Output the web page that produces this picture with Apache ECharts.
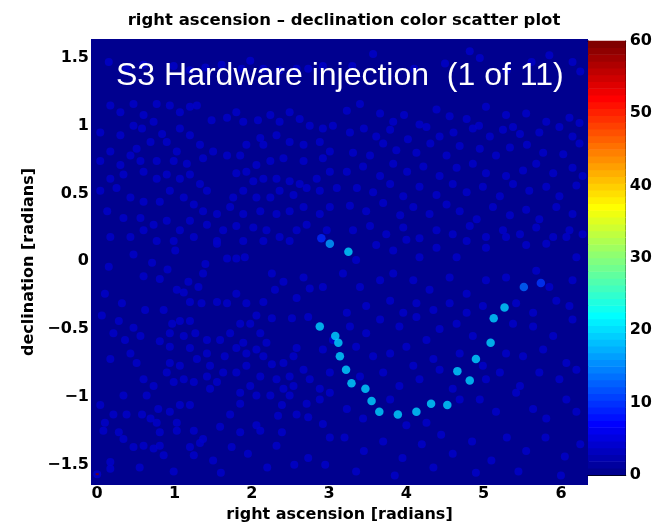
<!DOCTYPE html>
<html>
<head>
<meta charset="utf-8">
<script src="https://cdn.jsdelivr.net/npm/echarts@6/dist/echarts.min.js"></script>
<style>
  html, body { margin: 0; padding: 0; background: #fff; }
  #chart { width: 655px; height: 528px; }
</style>
</head>
<body>
<div id="chart"></div>
<script>
// Axis ticks
const raTicks = [0, 1, 2, 3, 4, 5, 6];
const decTicks = [-1.5, -1, -0.5, 0, 0.5, 1, 1.5];
const colorTicks = [0, 10, 20, 30, 40, 50, 60];

// Injection track: right ascension, declination, statistic value
const trackRA  = [2.90, 3.01, 3.25, 2.88, 3.08, 3.12, 3.14, 3.22, 3.29, 3.47, 3.55, 3.65,
                  3.89, 4.13, 4.32, 4.53, 4.66, 4.82, 4.90, 5.09, 5.13, 5.27, 5.52, 5.74];
const trackDec = [0.17, 0.13, 0.07, -0.48, -0.55, -0.60, -0.70, -0.80, -0.90, -0.94, -1.03, -1.11,
                  -1.13, -1.11, -1.05, -1.06, -0.81, -0.88, -0.72, -0.60, -0.42, -0.34, -0.19, -0.16];
const trackValue = [9, 16.5, 19.5, 19.5, 19.5, 19.5, 19.5, 19.5, 19.5, 19.5, 19.5, 19.5,
                    19.5, 19.5, 19.5, 19.5, 19.5, 19.5, 19.5, 19.5, 19.5, 19.5, 13, 10];

// Low-statistic sky positions (right ascension, declination)
const bgPoints = [
  // ra 0..3.1, southern sky
  [0.15,-0.04],[0.47,0.05],[0.71,-0.01],[0.91,-0.06],[0.60,-0.11],[0.81,-0.13],[1.01,0.08],
  [1.40,-0.02],[1.55,0.13],[1.68,0.02],[1.80,0.02],[1.91,0.03],[1.37,-0.09],[1.18,-0.15],
  [1.31,-0.19],[1.12,-0.23],[1.03,-0.21],[1.20,-0.30],[1.35,-0.31],[1.55,-0.30],[1.68,-0.31],
  [1.80,-0.24],[1.93,-0.31],[2.15,-0.30],[2.30,-0.21],[2.26,-0.09],[2.41,-0.15],[2.67,-0.12],
  [2.75,-0.20],[2.92,-0.19],[2.58,-0.27],[2.73,-0.41],[2.52,-0.42],[2.26,-0.42],[2.06,-0.40],
  [1.98,-0.46],[0.10,-0.24],[0.32,-0.31],[0.62,-0.36],[0.86,-0.36],[0.06,-0.40],[0.28,-0.44],
  [0.47,-0.49],[0.56,-0.55],[0.21,-0.53],[0.36,-0.58],[0.97,-0.46],[1.07,-0.44],[1.20,-0.44],
  [0.94,-0.53],[1.12,-0.55],[1.27,-0.53],[1.42,-0.58],[1.59,-0.58],[1.72,-0.53],[1.85,-0.46],
  [1.89,-0.60],[2.11,-0.53],[2.19,-0.60],[2.06,-0.65],[1.93,-0.68],[1.80,-0.64],[1.65,-0.70],
  [1.42,-0.68],[1.20,-0.64],[0.94,-0.63],[0.81,-0.59],[0.43,-0.68],[0.51,-0.75],[0.17,-0.72],
  [0.94,-0.75],[1.07,-0.77],[1.29,-0.72],[1.46,-0.77],[1.63,-0.82],[1.42,-0.85],[1.25,-0.89],
  [1.12,-0.87],[0.99,-0.89],[0.90,-0.82],[0.60,-0.87],[0.73,-0.92],[0.64,-0.99],[0.34,-0.99],
  [1.46,-0.94],[1.55,-0.89],[1.80,-0.82],[1.93,-0.77],[2.15,-0.70],[2.26,-0.76],[2.41,-0.75],
  [2.54,-0.70],[2.58,-0.64],[2.67,-0.80],[2.75,-0.87],[2.49,-0.85],[2.32,-0.87],[2.11,-0.85],
  [1.98,-0.92],[1.85,-0.97],[2.06,-0.99],[2.24,-0.99],[2.41,-0.94],[2.54,-0.92],[2.88,-0.94],
  [3.01,-0.97],[3.01,-0.82],[2.92,-0.65],[3.05,-0.58],[0.04,-1.06],[0.21,-1.13],[0.38,-1.13],
  [0.58,-1.13],[0.79,-1.09],[0.94,-1.11],[1.07,-1.06],[1.20,-1.06],[1.03,-1.19],[0.77,-1.19],
  [0.69,-1.16],[0.10,-1.19],[0.08,-1.25],[0.28,-1.26],[0.34,-1.31],[0.47,-1.37],[0.60,-1.36],
  [0.73,-1.38],[0.81,-1.36],[0.86,-1.43],[0.81,-1.26],[1.03,-1.25],[1.25,-1.25],[1.37,-1.31],
  [1.33,-1.34],[1.20,-1.37],[1.25,-1.43],[1.50,-1.47],[1.59,-1.22],[1.72,-1.13],[1.85,-1.05],
  [1.85,-1.26],[1.74,-1.37],[2.06,-1.21],[2.11,-1.25],[2.34,-1.14],[2.39,-1.06],[2.49,-0.99],
  [2.58,-1.13],[2.73,-1.15],[2.71,-1.05],[2.88,-1.02],[2.92,-1.20],[3.01,-1.30],[2.73,-1.45],
  [2.39,-1.26],[2.32,-1.36],[0.99,-1.55],[0.17,-1.48],[0.17,-1.53],[0.00,-1.57],
  [1.95,-1.42],[2.20,-1.52],[2.55,-1.50],[2.95,-1.50],[1.60,-1.56],[0.55,-1.52],
  // ra 0..3.1, northern sky
  [0.15,1.47],[0.38,1.42],[0.60,1.45],[0.99,1.44],[1.20,1.41],[1.40,1.43],[1.61,1.45],
  [1.87,1.42],[1.98,1.48],[2.15,1.42],[2.36,1.41],[2.58,1.42],[2.73,1.42],[2.92,1.44],
  [0.17,1.15],[0.30,1.10],[0.47,1.16],[0.60,1.08],[0.77,1.16],[0.94,1.15],[1.07,1.10],
  [1.20,1.14],[1.29,1.15],[1.48,1.04],[1.68,1.06],[1.80,1.10],[1.89,1.03],[2.08,1.04],
  [2.24,1.08],[2.36,1.03],[2.49,1.10],[2.62,1.05],[2.75,1.00],[2.92,0.98],[3.05,1.00],
  [0.04,0.95],[0.30,0.93],[0.47,1.00],[0.58,0.98],[0.73,1.03],[0.84,0.94],[1.07,0.98],
  [1.20,0.93],[1.33,0.86],[1.03,0.81],[0.90,0.88],[0.69,0.88],[0.51,0.83],[0.43,0.78],
  [0.17,0.81],[0.04,0.74],[0.30,0.71],[0.56,0.74],[0.77,0.74],[0.99,0.74],[1.16,0.72],
  [1.37,0.76],[1.50,0.81],[1.68,0.78],[1.85,0.78],[1.93,0.86],[2.15,0.86],[2.11,0.91],
  [2.32,0.93],[2.49,0.88],[2.67,0.86],[2.88,0.88],[3.01,0.81],[2.92,0.76],[2.67,0.74],
  [2.41,0.76],[2.24,0.74],[2.06,0.71],[1.80,0.65],[1.93,0.66],[2.02,0.59],[2.15,0.61],
  [2.32,0.61],[2.49,0.59],[2.62,0.57],[2.84,0.61],[3.01,0.66],[3.10,0.54],[2.88,0.52],
  [2.71,0.54],[2.54,0.49],[2.36,0.52],[2.24,0.47],[2.06,0.47],[1.89,0.52],[1.76,0.47],
  [1.42,0.52],[1.33,0.57],[1.20,0.64],[1.07,0.61],[0.90,0.64],[0.77,0.61],[0.60,0.66],
  [0.34,0.64],[0.17,0.61],[0.04,0.52],[0.25,0.54],[0.43,0.47],[0.60,0.44],[0.81,0.44],
  [0.94,0.52],[1.12,0.47],[1.25,0.42],[1.37,0.37],[1.55,0.35],[1.72,0.40],[1.89,0.35],
  [2.11,0.37],[2.32,0.35],[2.49,0.37],[2.67,0.40],[2.88,0.35],[3.01,0.40],[0.13,0.37],
  [0.34,0.32],[0.56,0.32],[0.73,0.27],[0.90,0.30],[1.07,0.23],[1.20,0.30],[1.42,0.27],
  [1.63,0.23],[1.80,0.26],[2.02,0.25],[2.19,0.23],[2.36,0.18],[2.58,0.23],[2.71,0.27],
  [2.97,0.23],[0.17,0.18],[0.43,0.18],[0.60,0.23],[0.77,0.15],[0.99,0.15],[1.25,0.18],
  [1.55,0.15],[1.89,0.15],[2.15,0.15],[2.49,0.15],
  // ra 3.1..6.3, northern sky
  [3.57,1.53],[4.82,1.55],[4.95,1.50],[5.62,1.47],[5.85,1.52],[6.15,1.47],[3.30,1.44],
  [4.10,1.42],[4.50,1.46],[5.30,1.41],[6.25,1.40],
  [3.23,1.11],[3.40,1.16],[3.66,1.09],[3.83,1.03],[3.97,1.08],[4.17,1.01],[4.39,1.12],
  [4.56,1.07],[4.78,1.05],[4.94,1.00],[5.03,1.14],[5.29,1.08],[5.38,0.99],[5.55,1.09],
  [5.81,1.03],[6.11,1.06],[6.24,1.02],[3.27,0.95],[3.45,0.98],[3.61,0.92],[3.79,0.97],
  [4.02,0.90],[4.26,0.99],[4.43,0.92],[4.61,0.95],[4.86,0.98],[5.08,0.92],[5.25,0.97],
  [5.47,0.94],[5.72,0.95],[5.98,0.99],[6.15,0.92],[3.31,0.80],[3.53,0.78],[3.70,0.87],
  [3.87,0.82],[4.13,0.80],[4.31,0.87],[4.52,0.78],[4.69,0.85],[4.95,0.83],[5.16,0.78],
  [5.34,0.84],[5.56,0.86],[5.77,0.80],[6.03,0.79],[6.24,0.87],[3.23,0.66],[3.44,0.70],
  [3.66,0.63],[3.83,0.72],[4.01,0.66],[4.22,0.70],[4.43,0.63],[4.65,0.69],[4.86,0.72],
  [5.03,0.65],[5.29,0.63],[5.51,0.67],[5.68,0.72],[5.90,0.65],[6.15,0.69],[6.28,0.63],
  [3.36,0.54],[3.57,0.51],[3.79,0.57],[3.96,0.48],[4.17,0.55],[4.39,0.49],[4.60,0.57],
  [4.78,0.51],[4.99,0.55],[5.21,0.48],[5.38,0.57],[5.59,0.52],[5.81,0.55],[5.98,0.48],
  [6.20,0.56],[3.27,0.41],[3.48,0.37],[3.70,0.43],[3.92,0.34],[4.09,0.40],[4.30,0.35],
  [4.52,0.42],[4.69,0.37],[4.91,0.31],[5.12,0.40],[5.34,0.34],[5.55,0.38],[5.72,0.31],
  [5.94,0.40],[6.15,0.35],[3.31,0.23],[3.53,0.26],[3.74,0.20],[3.96,0.25],[4.17,0.17],
  [4.39,0.23],[4.60,0.20],[4.82,0.26],[5.03,0.18],[5.25,0.23],[5.47,0.20],[5.68,0.25],
  [5.90,0.18],[6.11,0.23],[6.28,0.20],
  // ra 3.1..6.3, southern sky
  [3.35,0.01],[3.61,0.12],[3.83,0.08],[4.00,0.16],[4.17,0.03],[4.39,0.10],[4.65,0.03],
  [4.78,0.15],[5.03,0.10],[5.29,0.18],[5.55,0.12],[5.81,0.13],[6.07,0.18],[6.20,0.03],
  [3.18,-0.09],[3.40,-0.19],[3.66,-0.14],[3.83,-0.09],[4.09,-0.14],[4.30,-0.21],[4.56,-0.12],
  [4.78,-0.24],[5.03,-0.14],[5.29,-0.12],[5.68,-0.07],[5.85,-0.19],[6.15,-0.14],[3.23,-0.38],
  [3.48,-0.33],[3.79,-0.29],[3.96,-0.38],[4.13,-0.31],[4.35,-0.36],[4.56,-0.31],[4.78,-0.38],
  [4.99,-0.33],[5.42,-0.31],[5.64,-0.38],[5.94,-0.29],[6.11,-0.33],[3.27,-0.48],[3.48,-0.53],
  [3.66,-0.43],[3.91,-0.48],[4.13,-0.41],[4.26,-0.58],[4.43,-0.50],[4.65,-0.46],[4.86,-0.55],
  [5.38,-0.46],[5.64,-0.48],[5.90,-0.55],[6.15,-0.43],[3.35,-0.63],[3.57,-0.70],[3.79,-0.68],
  [4.00,-0.63],[4.09,-0.77],[4.35,-0.72],[4.69,-0.68],[4.99,-0.77],[5.29,-0.68],[5.51,-0.70],
  [5.77,-0.65],[6.07,-0.75],[3.40,-0.85],[3.70,-0.82],[3.91,-0.92],[4.17,-0.87],[4.43,-0.80],
  [4.60,-0.94],[5.03,-0.87],[5.21,-0.82],[5.47,-0.92],[5.72,-0.82],[5.98,-0.87],[6.20,-0.80],
  [3.23,-1.09],[3.44,-1.16],[3.79,-1.02],[4.00,-1.21],[4.26,-1.19],[4.69,-1.02],[4.95,-1.02],
  [5.16,-1.11],[5.42,-0.97],[5.64,-1.09],[5.81,-1.16],[6.07,-1.02],[6.20,-1.11],
  [3.20,-1.30],[3.45,-1.40],[3.70,-1.33],[3.95,-1.45],[4.20,-1.35],[4.45,-1.28],[4.60,-1.42],
  [4.85,-1.33],[5.10,-1.47],[5.30,-1.30],[5.55,-1.40],[5.80,-1.30],[6.05,-1.44],[6.25,-1.35],
  [3.35,-1.55],[3.85,-1.58],[4.35,-1.52],[4.90,-1.56],[5.45,-1.55],[6.00,-1.58]
];
const bgValue = 3.5;

// Colour-scale reference point at the south pole
const refRA = [0];
const refDec = [-1.57];
const refValue = [60];

// MATLAB-style jet colormap with 64 levels
const JET_LEVELS = 64;
function jet(k) {
  const t = (k + 1) / JET_LEVELS;
  const c = v => Math.round(Math.max(0, Math.min(1, v)) * 255);
  const r = c(1.5 - Math.abs(4 * t - 3));
  const g = c(1.5 - Math.abs(4 * t - 2));
  const b = c(1.5 - Math.abs(4 * t - 1));
  return 'rgb(' + r + ',' + g + ',' + b + ')';
}
const jetColors = [];
for (let k = 0; k < JET_LEVELS; k++) jetColors.push(jet(k));
const bands = [];
for (let k = 0; k < JET_LEVELS; k++) bands.push([k]);

const cMin = colorTicks[0];
const cMax = colorTicks[colorTicks.length - 1];

const FONT = '"DejaVu Sans", sans-serif';
const labelStyle = { color: '#000', fontFamily: FONT, fontWeight: 'bold', fontSize: 16 };
const minus = v => String(v).replace('-', '\u2212');

const zip3 = (a, b, c) => a.map((v, i) => [v, b[i], c[i]]);

const chart = echarts.init(document.getElementById('chart'), null, { renderer: 'canvas' });

chart.setOption({
  backgroundColor: '#fff',
  animation: false,
  title: {
    text: 'right ascension \u2013 declination color scatter plot',
    left: 339, top: 7, textAlign: 'center',
    textStyle: { color: '#000', fontFamily: FONT, fontWeight: 'bold', fontSize: 16.5 }
  },
  grid: [
    { left: 91, top: 39, width: 497, height: 446, show: true,
      backgroundColor: jetColors[0], borderWidth: 0 },
    { left: 588, top: 41, width: 40, height: 434, show: false }
  ],
  xAxis: [
    { gridIndex: 0, type: 'value', min: -0.08, max: 6.35,
      axisLine: { show: false }, axisTick: { show: false }, splitLine: { show: false },
      axisLabel: Object.assign({ customValues: raTicks, margin: 1 }, labelStyle),
      name: 'right ascension [radians]', nameLocation: 'middle', nameGap: 19,
      nameTextStyle: labelStyle },
    { gridIndex: 1, type: 'value', min: 0, max: 1, position: 'bottom',
      axisLine: { show: true, onZero: false, lineStyle: { color: '#000', width: 1 } },
      axisTick: { show: false }, axisLabel: { show: false }, splitLine: { show: false } },
    { gridIndex: 1, type: 'value', min: 0, max: 1, position: 'top',
      axisLine: { show: true, onZero: false, lineStyle: { color: '#000', width: 1 } },
      axisTick: { show: false }, axisLabel: { show: false }, splitLine: { show: false } }
  ],
  yAxis: [
    { gridIndex: 0, type: 'value', min: -1.65, max: 1.64,
      axisLine: { show: false }, axisTick: { show: false }, splitLine: { show: false },
      axisLabel: Object.assign({ customValues: decTicks, margin: 2, formatter: minus }, labelStyle),
      name: 'declination [radians]', nameLocation: 'middle', nameRotate: 90, nameGap: 48,
      nameTextStyle: labelStyle },
    { gridIndex: 1, type: 'value', min: cMin, max: cMax, interval: 10, position: 'right',
      axisLine: { show: true, onZero: false, lineStyle: { color: '#000', width: 1 } },
      axisTick: { show: true, inside: true, length: 4, lineStyle: { color: '#000' } },
      axisLabel: Object.assign({ margin: 4 }, labelStyle),
      splitLine: { show: false } },
    { gridIndex: 1, type: 'value', min: cMin, max: cMax, interval: 10, position: 'left',
      axisLine: { show: true, onZero: false, lineStyle: { color: '#000', width: 1 } },
      axisTick: { show: true, inside: true, length: 4, lineStyle: { color: '#000' } },
      axisLabel: { show: false }, splitLine: { show: false } }
  ],
  visualMap: {
    type: 'continuous', show: false, min: cMin, max: cMax, dimension: 2,
    seriesIndex: [0, 1, 2],
    inRange: { color: jetColors }
  },
  graphic: [
    { type: 'text', x: 116, y: 76, z: 100,
      style: { text: 'S3 Hardware injection  (1 of 11)', fill: '#fff',
               font: '32px "Liberation Sans", Arial, sans-serif',
               align: 'left', verticalAlign: 'middle' } }
  ],
  series: [
    { type: 'scatter', xAxisIndex: 0, yAxisIndex: 0, symbol: 'circle', symbolSize: 8,
      data: bgPoints.map(p => [p[0], p[1], bgValue]), z: 2 },
    { type: 'scatter', xAxisIndex: 0, yAxisIndex: 0, symbol: 'circle', symbolSize: 8.5,
      data: zip3(trackRA, trackDec, trackValue), z: 3 },
    { type: 'scatter', xAxisIndex: 0, yAxisIndex: 0, symbol: 'rect', symbolSize: [3, 2],
      data: zip3(refRA, refDec, refValue), z: 4 },
    { type: 'custom', xAxisIndex: 1, yAxisIndex: 1, data: bands, z: 1,
      renderItem: function (params, api) {
        const k = api.value(0);
        const lo = api.coord([0, (k / JET_LEVELS) * (cMax - cMin) + cMin]);
        const hi = api.coord([1, ((k + 1) / JET_LEVELS) * (cMax - cMin) + cMin]);
        return { type: 'rect',
                 shape: { x: lo[0], y: hi[1] - 0.3, width: hi[0] - lo[0], height: lo[1] - hi[1] + 0.6 },
                 style: { fill: jetColors[k] } };
      } }
  ]
});
</script>
</body>
</html>
